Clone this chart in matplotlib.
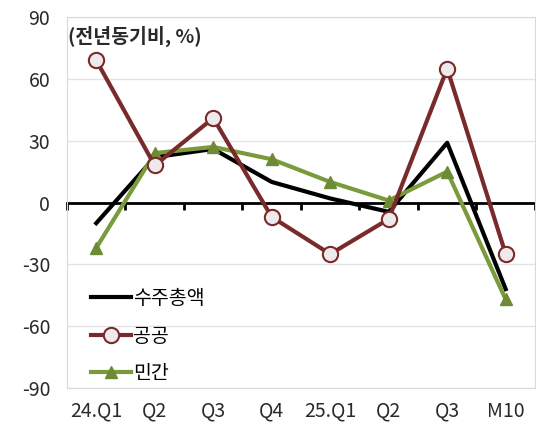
import matplotlib.pyplot as plt
import numpy as np

plt.rcParams['font.family'] = ['Noto Sans CJK KR', 'DejaVu Sans']

# 데이터
categories = ['24.Q1', 'Q2', 'Q3', 'Q4', '25.Q1', 'Q2', 'Q3', 'M10']
total = [-10, 22, 26, 10, 2, -4.5, 29, -42]
public = [69, 18, 41, -7, -25, -8, 65, -25]
private = [-22, 24, 27, 21, 10, 1, 15, -47]
yticks = [-90, -60, -30, 0, 30, 60, 90]

brown = '#7a2a2a'
green = '#7a9a3c'

fig = plt.figure(figsize=(5.36, 4.26), dpi=100)
ax = fig.add_axes([0.125, 0.089, 0.873, 0.871])

x = np.arange(len(categories))

ax.plot(x, total, color='black', linewidth=3, label='수주총액', zorder=3)
ax.plot(x, public, color=brown, linewidth=3, marker='o', markersize=11,
        markerfacecolor='#eeeaec', markeredgecolor=brown, markeredgewidth=1.5,
        label='공공', zorder=4)
ax.plot(x, private, color=green, linewidth=3, marker='^', markersize=9,
        markerfacecolor='#6e8a34', markeredgecolor='#6e8a34',
        label='민간', zorder=3)

ax.set_xlim(-0.5, len(categories) - 0.5)
ax.set_ylim(-90, 90)
ax.set_yticks(yticks)
ax.set_yticklabels([str(v) for v in yticks], fontsize=14, color='#2a2a2a')
ax.tick_params(axis='y', length=0, pad=12)
ax.grid(axis='y', color='#e4e4e4', linewidth=1)
ax.set_axisbelow(True)

# 0 기준선 (눈금 포함)
ax.spines['bottom'].set_position(('data', 0))
ax.spines['bottom'].set_color('black')
ax.spines['bottom'].set_linewidth(2)
ax.spines['bottom'].set_zorder(2)
ax.set_xticks(np.arange(len(categories) + 1) - 0.5)
ax.set_xticklabels([])
ax.tick_params(axis='x', direction='out', length=5, width=2, color='black')
for s in ['left', 'right', 'top']:
    ax.spines[s].set_color('#d9d9d9')

# 아래쪽 카테고리 라벨
sec = ax.secondary_xaxis(0)
sec.set_xticks(x)
sec.set_xticklabels(categories, fontsize=14, color='#2a2a2a')
sec.tick_params(length=0, pad=9)
sec.spines['bottom'].set_color('#d9d9d9')

ax.text(0.003, 0.975, '(전년동기비, %)', transform=ax.transAxes, fontsize=14,
        fontweight='bold', color='#2a2a2a', va='top', ha='left')

ax.legend(loc='lower left', bbox_to_anchor=(0.042, 0.0), frameon=False, fontsize=14,
          handlelength=2.1, handletextpad=0.1, labelspacing=0.85, borderaxespad=-0.2)

fig.savefig('out.png', dpi=100)
